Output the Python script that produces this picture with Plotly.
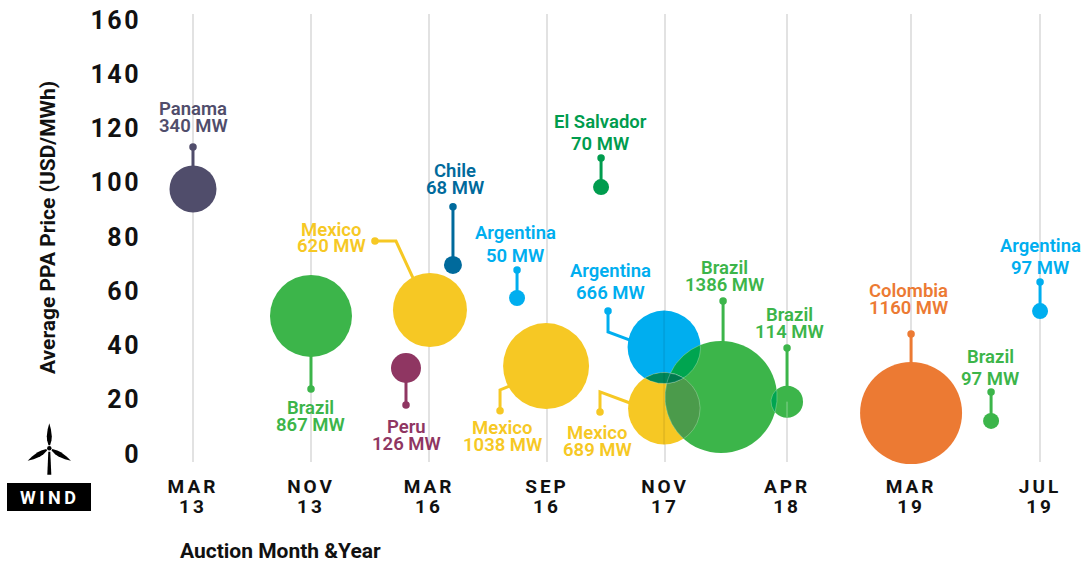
import numpy as np
import plotly.graph_objects as go

W, H = 1081, 564
ML, MR, MT, MB = 140, 0, 14, 102
X_RANGE = [-0.449, 7.525]
Y_RANGE = [-2.95, 162.2]

tick_positions = [0, 1, 2, 3, 4, 5.034, 6.085, 7.178]
tick_labels = ["MAR<br>13", "NOV<br>13", "MAR<br>16", "SEP<br>16", "NOV<br>17", "APR<br>18", "MAR<br>19", "JUL<br>19"]
y_ticks = [0, 20, 40, 60, 80, 100, 120, 140, 160]

countries = ["Panama", "Brazil", "Mexico", "Peru", "Chile", "Argentina", "El Salvador", "Mexico",
             "Argentina", "Mexico", "Brazil", "Brazil", "Colombia", "Brazil", "Argentina"]
capacity_mw = [340, 867, 620, 126, 68, 50, 70, 1038, 666, 689, 1386, 114, 1160, 97, 97]
auction_pos = [0, 1, 2.008, 1.805, 2.203, 2.746, 3.458, 2.992, 3.992, 3.992, 4.475, 5.034, 6.085, 6.763, 7.178]
price_usd = [97.7, 50.9, 53.1, 31.7, 69.7, 57.5, 98.4, 32.4, 39.4, 16.8, 21.0, 19.3, 15.1, 12.2, 52.7]
bubble_px = [47, 82, 74, 30, 18, 16, 16, 86, 73, 72, 112, 32, 102, 16, 16]
colors = ["#504D6B", "#3CB54A", "#F6C824", "#8F3662", "#006A9C", "#00AEEF", "#009C4E", "#F6C824",
          "#00AEEF", "#F6C824", "#3CB54A", "#3CB54A", "#EC7A33", "#3CB54A", "#00AEEF"]

# leader lines: list of (x, y) elbows from the end dot towards the bubble
leader_x = [[0], [1], [1.542, 1.720, 1.864], [1.805], [2.203], [2.746], [3.458], [2.602, 2.602, 2.686],
            [3.517, 3.517, 3.703], [3.449, 3.449, 3.703], [4.492], [5.034], [6.085], [6.763], [7.178]]
leader_y = [[113.2], [24.0], [78.5, 78.5, 64.9], [18.1], [91.1], [67.8], [109.1], [15.9, 23.6, 25.1],
            [52.7, 45.0, 42.0], [15.5, 22.9, 18.8], [56.4], [39.1], [44.2], [22.9], [63.4]]

# label placement in page pixels: centre x, name line y, MW line y
label_cx = [193, 310, 331, 406, 455, 515, 600, 502, 610, 597, 724, 789, 908, 990, 1040]
label_y1 = [109.5, 407.5, 229.5, 426.5, 170.5, 232.5, 121.5, 427.5, 270.5, 432.5, 267.5, 314.5, 290.5, 356.5, 245.5]
label_y2 = [126.5, 424.5, 245.5, 443.5, 187.5, 255.5, 143.5, 444.5, 292.5, 449.5, 284.5, 331.5, 307.5, 378.5, 267.5]

# overlaps: bubble indices and the colour seen where they overlap
overlap_sets = [([8, 10], "#00A550"), ([9, 10], "#4B9B4B"), ([8, 9], "#00875A"),
                ([10, 11], "#00A550"), ([8, 9, 10], "#007A4E")]

PW, PH = W - ML - MR, H - MT - MB
sx = PW / (X_RANGE[1] - X_RANGE[0])
sy = PH / (Y_RANGE[1] - Y_RANGE[0])
paper_x = lambda px: (px - ML) / PW
paper_y = lambda py: 1 - (py - MT) / PH

fig = go.Figure()

# leaders
for i in range(len(countries)):
    fig.add_trace(go.Scatter(x=leader_x[i] + [auction_pos[i] if len(leader_x[i]) == 1 and i != 10 else leader_x[i][-1]],
                             y=leader_y[i] + [price_usd[i] if len(leader_x[i]) == 1 else leader_y[i][-1]],
                             mode="lines", line=dict(color=colors[i], width=3), hoverinfo="skip", showlegend=False))
    fig.add_trace(go.Scatter(x=leader_x[i][:1], y=leader_y[i][:1], mode="markers",
                             marker=dict(color=colors[i], size=7.5), hoverinfo="skip", showlegend=False, cliponaxis=False))

# bubbles
fig.add_trace(go.Scatter(x=auction_pos, y=price_usd, mode="markers", cliponaxis=False, showlegend=False,
                         text=[f"{c} {m} MW" for c, m in zip(countries, capacity_mw)], hoverinfo="text",
                         marker=dict(size=bubble_px, color=colors, opacity=1, line=dict(width=0))))


def overlap_polygon(ids):
    cs = [(auction_pos[i] * sx, price_usd[i] * sy, bubble_px[i] / 2) for i in ids]
    pts = []
    for a, (cx, cy, r) in enumerate(cs):
        for t in np.linspace(0, 2 * np.pi, 720, endpoint=False):
            p = (cx + r * np.cos(t), cy + r * np.sin(t))
            if all(np.hypot(p[0] - o[0], p[1] - o[1]) <= o[2] for b, o in enumerate(cs) if b != a):
                pts.append(p)
    pts = np.array(pts)
    c = pts.mean(axis=0)
    pts = pts[np.argsort(np.arctan2(pts[:, 1] - c[1], pts[:, 0] - c[0]))]
    pts = np.vstack([pts, pts[:1]])
    return pts[:, 0] / sx, pts[:, 1] / sy


for ids, col in overlap_sets:
    ox, oy = overlap_polygon(ids)
    fig.add_trace(go.Scatter(x=ox, y=oy, mode="lines", fill="toself", fillcolor=col,
                             line=dict(color="rgba(255,255,255,0.25)", width=1), hoverinfo="skip", showlegend=False))

# faint gridline show-through on some bubbles
fig.add_trace(go.Scatter(x=[3.992, 3.992], y=[52.9, 3.5], mode="lines", line=dict(color="rgba(0,0,0,0.07)", width=2),
                         hoverinfo="skip", showlegend=False))
fig.add_trace(go.Scatter(x=[5.034, 5.034], y=[19.3, 13.5], mode="lines", line=dict(color="rgba(255,255,255,0.2)", width=2),
                         hoverinfo="skip", showlegend=False))

ann = []
for i in range(len(countries)):
    for txt, py in ((countries[i], label_y1[i]), (f"{capacity_mw[i]} MW", label_y2[i])):
        ann.append(dict(text=txt, xref="paper", yref="paper", x=paper_x(label_cx[i]), y=paper_y(py),
                        xanchor="center", yanchor="middle", showarrow=False,
                        font=dict(family="Roboto", size=18.5, color=colors[i], weight=600)))
ann.append(dict(text="Average PPA Price (USD/MWh)", xref="paper", yref="paper", x=paper_x(48), y=paper_y(228),
                textangle=-90, xanchor="center", yanchor="middle", showarrow=False,
                font=dict(family="Roboto", size=21, color="#111", weight=700)))
ann.append(dict(text="Auction Month &Year", xref="paper", yref="paper", x=paper_x(178), y=paper_y(551),
                xanchor="left", yanchor="middle", showarrow=False,
                font=dict(family="Roboto", size=21, color="#111", weight=700)))
ann.append(dict(text="WIND", xref="paper", yref="paper", x=paper_x(49), y=paper_y(497),
                xanchor="center", yanchor="middle", showarrow=False,
                font=dict(family="Roboto", size=18, color="#fff", weight=700)))

# turbine icon
HUB = (49.3, 448.3)


def to_path(points):
    return "M" + " L".join(f"{paper_x(HUB[0] + a):.5f},{paper_y(HUB[1] + b):.5f}" for a, b in points) + " Z"


blade = [(-0.8, -3), (-2.2, -8), (-2.5, -12), (-1.6, -19), (0, -25), (1.6, -19), (2.5, -12), (2.2, -8), (0.8, -3)]
shapes = [dict(type="rect", xref="paper", yref="paper", x0=paper_x(7), x1=paper_x(91), y0=paper_y(511), y1=paper_y(483),
               fillcolor="#000", line=dict(width=0), layer="above")]
for ang in (0, 120, 240):
    t = np.radians(ang)
    pts = [(a * np.cos(t) - b * np.sin(t), a * np.sin(t) + b * np.cos(t)) for a, b in blade]
    shapes.append(dict(type="path", xref="paper", yref="paper", path=to_path(pts), fillcolor="#000", line=dict(width=0)))
shapes.append(dict(type="path", xref="paper", yref="paper",
                   path=to_path([(-1.0, 3.5), (-2.0, 26.5), (2.0, 26.5), (1.0, 3.5)]), fillcolor="#000", line=dict(width=0)))
shapes.append(dict(type="circle", xref="paper", yref="paper", x0=paper_x(HUB[0] - 2.2), x1=paper_x(HUB[0] + 2.2),
                   y0=paper_y(HUB[1] + 2.2), y1=paper_y(HUB[1] - 2.2), fillcolor="#000", line=dict(width=0)))

fig.update_layout(
    width=W, height=H, margin=dict(l=ML, r=MR, t=MT, b=MB), plot_bgcolor="#fff", paper_bgcolor="#fff",
    showlegend=False, annotations=ann, shapes=shapes,
    xaxis=dict(range=X_RANGE, tickmode="array", tickvals=tick_positions, ticktext=tick_labels, showgrid=True,
               gridcolor="#E2E2E2", gridwidth=2, zeroline=False, showline=False, ticks="", automargin=False,
               tickangle=0, ticklabelstandoff=11, tickfont=dict(family="Roboto", size=19, color="#111", weight=700)),
    yaxis=dict(range=Y_RANGE, tickmode="array", tickvals=y_ticks, showgrid=False, zeroline=False, showline=False,
               ticks="", automargin=False, ticklabelstandoff=-2,
               tickfont=dict(family="Roboto", size=25, color="#111", weight=700)),
)

post = """
document.documentElement.style.overflow = 'hidden';
document.body.style.margin = '0';
var gd = document.getElementById('{plot_id}');
function sp() {
  document.querySelectorAll('.xtick text').forEach(function (t) {
    t.style.letterSpacing = '3px';
    t.querySelectorAll('tspan.line').forEach(function (s, i) { if (i > 0) { s.setAttribute('dy', '1.05em'); } });
  });
  document.querySelectorAll('.ytick text').forEach(function (t) { t.style.letterSpacing = '2.5px'; });
  document.querySelectorAll('.annotation-text').forEach(function (t) {
    if (t.textContent === 'WIND') { t.style.letterSpacing = '3.5px'; }
  });
}
sp(); setTimeout(sp, 30); gd.on('plotly_afterplot', sp);
"""
fig.write_html("out.html", post_script=post, config=dict(displayModeBar=False))
